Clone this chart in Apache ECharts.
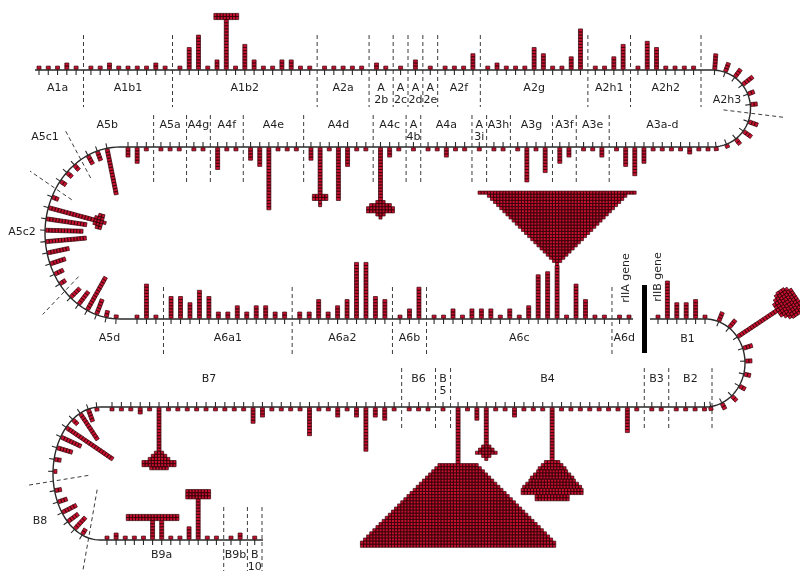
<!DOCTYPE html>
<html>
<head>
<meta charset="utf-8">
<script src="https://cdn.jsdelivr.net/npm/echarts@6/dist/echarts.min.js"></script>
<style>
html,body{margin:0;padding:0;background:#ffffff;}
#chart{width:800px;height:571px;}
</style>
</head>
<body>
<div id="chart"></div>
<script>
// ================= DATA =================
// counts per site (number of squares); null = region divider; string = hotspot key
const row1Regions = ['A1a','A1b1','A1b2','A2a','A\n2b','A\n2c','A\n2d','A\n2e','A2f','A2g','A2h1','A2h2'];
const row1Counts = [1,1,1,2,1, null, 1,1,2,1,1,1,1,2,1, null, 1,7,11,1,3,'A1b2',1,8,3,1,1,3,3,1,1, null,
  1,1,1,1,1, null, 2,1, null, 1, null, 3, null, 1, null, 1,1,1,5, null, 1,2,1,1,1,7,5,1,1,4,13, null,
  1,1,4,8, null, 1,9,7,1,1,1,1, null];
const arcA2Counts = [5,3,3,4,2,2, null, 3,3,2,1,1];
const row2Regions = ['A5b','A5a','A4g','A4f','A4e','A4d','A4c','A\n4b','A4a','A\n3i','A3h','A3g','A3f','A3e','A3a-d'];
const row2Counts = [3,5,1, null, 1,1,1, null, 1,1, null, 7,1,1, null, 4,6,20,1,1,1, null, 4,'A4d',1,17,6,1,1, null,
  'A4c',3,1, null, 1, null, 1,1,3,1,1, null, 1, null, 1,1, null, 1,11,1,8, null, 5,3, null, 1,1,3, null,
  1,6,9,5,1,1,1,1,2,1,1];
const arcA5Counts = [15,3,3, null, 2,2,2, null, 2,'A5c2',13,12,13,7,5,3,2, null, 4,5,12,5,2,1];
const row3Regions = ['A5d','A6a1','A6a2','A6b','A6c','A6d'];
const row3Counts = [1,11,1, null, 7,7,5,9,7,2,2,4,2,4,4,2,2, null, 2,2,6,2,4,6,18,18,7,6, null, 1,3,10, null,
  1,1,3,1,3,3,3,1,3,1,4,14,15,'A6c',1,11,6,1,1, null, 1,1];
const rowB1Regions = ['B1'];
const rowB1Counts = [1,12,5,5,6,1];
const arcB1Counts = [3,3,'B1',3,2,2,2,2,2,1];
const row4Regions = ['B7','B6','B\n5','B4','B3','B2'];
const row4Counts = [1,1,1,2,1,'B7',1,1,1,1,1,1,1,1,1,5,3,1,1,1,1,9,1,1,3,1,3,14,3,4,1, null, 1,1,1, null, 1, null,
  'B4a',1,4,'B4b',1,1,3,1,1,1,'B4c',1,1,1,1,1,1,1,8,1, null, 1,1, null, 1,1,1,1, null];
const arcB8Counts = [1,4,10,2,18,7,5,2,1, null, 2,3,5,4,5,2, null];
const row5Regions = ['B9a','B9b','B\n10'];
const row5Counts = [1,2,1,1,1,'B9a1',6,1,1,4,'B9a2',1,1, null, 1,2, null, 1, null];
const arcLabelNames = ['A2h3','A5c1','A5c2','B8'];
const geneLabelNames = ['rIIA gene','rIIB gene'];

// hotspots: stem length and overflow rows (widths, from the stem end outward)
const hotspotStem = {A1b2:16, A4d:15, A4c:17, A5c2:15, A6c:17, B1:15, B7:14, B4a:18, B4b:12, B4c:17, B9a1:6, B9a2:13};
const hotA1b2 = [8,8];
const hotA4d = [5,5,1,1];
const hotA4c = [3,7,9,9,3,1];
const hotA5c2 = [3,5,5,1];
const hotA6c = [1,3,5,7,9,11,13,15,17,19,21,23,25,27,29,31,33,35,37,39,41,43,45,51];
const hotB1 = [5,7,9,10,10,10,9,7];
const hotB7 = [3,5,7,11,11,6];
const hotB4a = [13,15,17,19,21,23,25,27,29,31,33,35,37,39,41,43,45,47,49,51,53,55,57,59,61,63,63];
const hotB4b = [3,5,7,3,1];
const hotB4c = [5,7,9,10,12,14,15,17,19,20,20,11,11];
const hotB9a1 = [17,17];
const hotB9a2 = [8,8,8];
const hotspotRows = {A1b2:hotA1b2, A4d:hotA4d, A4c:hotA4c, A5c2:hotA5c2, A6c:hotA6c, B1:hotB1, B7:hotB7,
  B4a:hotB4a, B4b:hotB4b, B4c:hotB4c, B9a1:hotB9a1, B9a2:hotB9a2};

// ================= LAYOUT =================
const PITCH = 3.1, STEM_W = 4.0, GAP = 0.8, TICK = 5;
const SQ_FILL = '#c8102e', SQ_STROKE = '#34060b';
const segments = [
  {kind:'line', y:70,  xa:39,  xb:701, side:-1, track:[35,712],  dash:[35,107],  labelY:82,  counts:row1Counts, regions:row1Regions},
  {kind:'arc',  cx:712, cy:108.5, rx:38.5, ry:38.5, ta:-86, tb:84, out:1, track:[-90,90], dashF:[0.3,1.9], counts:arcA2Counts},
  {kind:'line', y:147, xa:128, xb:708, side:1,  track:[120,712], dash:[115,184], labelY:119, counts:row2Counts, regions:row2Regions},
  {kind:'arc',  cx:120, cy:233, rx:75, ry:86, ta:260, tb:93, out:-1, track:[90,270], dashF:[0.75,1.4], counts:arcA5Counts},
  {kind:'line', y:319, xa:137, xb:629, side:-1, track:[120,633], dash:[287,357], labelY:332, counts:row3Counts, regions:row3Regions},
  {kind:'line', y:319, xa:658, xb:705, side:-1, track:[650,705], dash:[0,0],     labelY:333, counts:rowB1Counts, regions:rowB1Regions},
  {kind:'arc',  cx:705, cy:363, rx:40, ry:44, ta:-70, tb:82, out:1, track:[-90,90], dashF:[0.5,1.5], counts:arcB1Counts},
  {kind:'line', y:407, xa:112, xb:712, side:1,  track:[100,705], dash:[368,430], labelY:373, counts:row4Counts, regions:row4Regions},
  {kind:'arc',  cx:100, cy:473.5, rx:47, ry:66.5, ta:266, tb:104, out:-1, track:[90,270], dashF:[0.25,1.55], counts:arcB8Counts},
  {kind:'line', y:540, xa:107, xb:262, side:-1, track:[100,263], dash:[507,571], labelY:549, counts:row5Counts, regions:row5Regions}
];
const labelShift = {A5b:-30, A5d:-37, B7:-44, B1:6};
const arcLabelPos = [[727,100],[45,137],[22,232],[40,521]];
const geneLabelPos = [[626,278],[658,277]];
const separatorRect = [642,285,5,68];

// ================= BUILD =================
function geo(seg, u){
  const f = seg.uMax ? u / seg.uMax : 0;
  if (seg.kind === 'line') return {p:[seg.xa + (seg.xb - seg.xa) * f, seg.y], n:[0, seg.side], t:[1, 0]};
  const th = (seg.ta + (seg.tb - seg.ta) * f) * Math.PI / 180;
  const c = Math.cos(th), s = Math.sin(th);
  let nx = c / seg.rx, ny = s / seg.ry; const L = Math.hypot(nx, ny);
  nx = nx / L * seg.out; ny = ny / L * seg.out;
  return {p:[seg.cx + seg.rx * c, seg.cy + seg.ry * s], n:[nx, ny], t:[-ny, nx], th};
}
const sites = [], dividers = [], labels = [];
segments.forEach(seg => {
  let u = 0, prev;
  seg.items = seg.counts.map((c, i) => {
    if (i > 0) u += (c === null || prev === null) ? 0.8 : 1;
    prev = c; return {c, u};
  });
  seg.uMax = u;
  let r = 0; const regionX = [];
  seg.items.forEach(it => {
    const g = geo(seg, it.u);
    if (it.c === null) { dividers.push({seg, g}); r++; return; }
    const hot = typeof it.c === 'string';
    sites.push({seg, g, stem: hot ? hotspotStem[it.c] : it.c, rows: hot ? hotspotRows[it.c] : []});
    if (seg.regions) (regionX[r] = regionX[r] || []).push(g.p[0]);
  });
  if (seg.regions) seg.regions.forEach((name, k) => {
    const xs = regionX[k]; if (!xs) return;
    labels.push({text:name, x:(Math.min(...xs) + Math.max(...xs)) / 2 + (labelShift[name] || 0), y:seg.labelY, va:'top'});
  });
});
arcLabelNames.forEach((n, i) => labels.push({text:n, x:arcLabelPos[i][0], y:arcLabelPos[i][1], va:'middle'}));
geneLabelNames.forEach((n, i) => labels.push({text:n, x:geneLabelPos[i][0], y:geneLabelPos[i][1], va:'middle', rot:Math.PI / 2}));

const fmt = c => c[0].toFixed(2) + ' ' + c[1].toFixed(2);

// ================= CHART =================
const chart = echarts.init(document.getElementById('chart'), null, {renderer:'canvas'});
chart.setOption({
  animation:false,
  backgroundColor:'#ffffff',
  grid:{left:0, right:0, top:0, bottom:0},
  xAxis:{type:'value', min:0, max:800, show:false},
  yAxis:{type:'value', min:0, max:571, inverse:true, show:false},
  series:[
    { // region dividers
      type:'custom', clip:false, silent:true, z:1,
      data: dividers.map(d => [d.g.p[0], d.g.p[1]]),
      renderItem: (params, api) => {
        const d = dividers[params.dataIndex], seg = d.seg; let a, b;
        if (seg.kind === 'line') { a = [d.g.p[0], seg.dash[0]]; b = [d.g.p[0], seg.dash[1]]; }
        else {
          const c = Math.cos(d.g.th), s = Math.sin(d.g.th);
          a = [seg.cx + seg.rx * c * seg.dashF[0], seg.cy + seg.ry * s * seg.dashF[0]];
          b = [seg.cx + seg.rx * c * seg.dashF[1], seg.cy + seg.ry * s * seg.dashF[1]];
        }
        const A = api.coord(a), B = api.coord(b);
        return {type:'line', shape:{x1:A[0], y1:A[1], x2:B[0], y2:B[1]}, style:{stroke:'#3c3c3c', lineWidth:1, lineDash:[4,3]}};
      }
    },
    { // track line, ticks, rIIA/rIIB separator
      type:'custom', clip:false, silent:true, z:2,
      data:[[0,0]],
      renderItem: (params, api) => {
        let d = '';
        segments.forEach(seg => {
          if (seg.kind === 'line') d += 'M' + fmt(api.coord([seg.track[0], seg.y])) + 'L' + fmt(api.coord([seg.track[1], seg.y]));
          else for (let i = 0; i <= 60; i++) {
            const th = (seg.track[0] + (seg.track[1] - seg.track[0]) * i / 60) * Math.PI / 180;
            d += (i ? 'L' : 'M') + fmt(api.coord([seg.cx + seg.rx * Math.cos(th), seg.cy + seg.ry * Math.sin(th)]));
          }
        });
        let t = '';
        sites.forEach(s => {
          const g = s.g;
          t += 'M' + fmt(api.coord([g.p[0] + g.n[0] * 0.5, g.p[1] + g.n[1] * 0.5])) + 'L' + fmt(api.coord([g.p[0] - g.n[0] * TICK, g.p[1] - g.n[1] * TICK]));
        });
        const r0 = api.coord([separatorRect[0], separatorRect[1]]);
        const r1 = api.coord([separatorRect[0] + separatorRect[2], separatorRect[1] + separatorRect[3]]);
        return {type:'group', children:[
          {type:'path', shape:{pathData:d}, style:{fill:'none', stroke:'#2a2a2a', lineWidth:1.4}},
          {type:'path', shape:{pathData:t}, style:{fill:'none', stroke:'#2a2a2a', lineWidth:1.1}},
          {type:'rect', shape:{x:r0[0], y:r0[1], width:r1[0] - r0[0], height:r1[1] - r0[1]}, style:{fill:'#000'}}
        ]};
      }
    },
    { // mutation squares
      type:'custom', clip:false, silent:true, z:3,
      data: sites.map(s => [s.g.p[0], s.g.p[1]]),
      renderItem: (params, api) => {
        const s = sites[params.dataIndex], g = s.g, h = PITCH / 2;
        let d = '';
        const sq = (along, dist, hw) => {
          const cx = g.p[0] + g.n[0] * dist + g.t[0] * along, cy = g.p[1] + g.n[1] * dist + g.t[1] * along;
          [[-hw,-h],[hw,-h],[hw,h],[-hw,h]].forEach((q, i) => {
            d += (i ? 'L' : 'M') + fmt(api.coord([cx + g.t[0] * q[0] + g.n[0] * q[1], cy + g.t[1] * q[0] + g.n[1] * q[1]]));
          });
          d += 'Z';
        };
        for (let k = 0; k < s.stem; k++) sq(0, GAP + PITCH * (k + 0.5), STEM_W / 2);
        s.rows.forEach((w, j) => {
          for (let m = 0; m < w; m++) sq((m - (w - 1) / 2) * PITCH, GAP + PITCH * (s.stem + j + 0.5), h);
        });
        return {type:'path', shape:{pathData:d}, style:{fill:SQ_FILL, stroke:SQ_STROKE, lineWidth:0.7}};
      }
    },
    { // labels
      type:'custom', clip:false, silent:true, z:4,
      data: labels.map(l => [l.x, l.y]),
      renderItem: (params, api) => {
        const l = labels[params.dataIndex], c = api.coord([l.x, l.y]);
        return {type:'text', x:c[0], y:c[1], rotation:l.rot || 0,
          style:{text:l.text, x:0, y:0, fill:'#1f1f1f', font:'11px "DejaVu Sans"', align:'center', verticalAlign:l.va, lineHeight:12}};
      }
    }
  ]
});
</script>
</body>
</html>
